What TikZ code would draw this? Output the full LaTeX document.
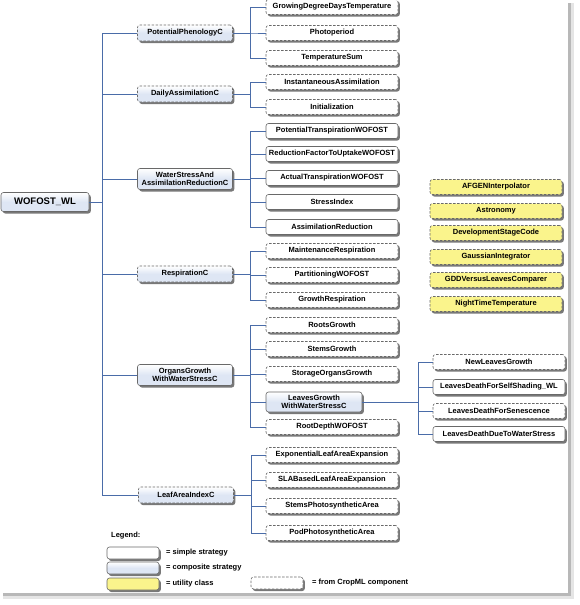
\documentclass[tikz,border=0pt]{standalone}
\usepackage{fontspec}
\setmainfont{Liberation Sans}
\usetikzlibrary{shadows}
\definecolor{linkblue}{RGB}{74,108,168}
\definecolor{compfill}{RGB}{222,230,244}
\definecolor{utilfill}{RGB}{250,244,140}
\definecolor{boxedge}{RGB}{105,105,105}

\begin{document}
\begin{tikzpicture}[x=1pt, y=-1pt,
basebox/.style={rectangle, rounded corners=2.5pt, align=center, draw=boxedge, line width=0.6pt, inner sep=0pt,
  font=\bfseries\fontsize{7.5}{8.6}\selectfont,
  drop shadow={shadow xshift=1.8pt, shadow yshift=-2pt, fill=black!70, opacity=0.75}},
simple/.style={basebox, fill=white},
composite/.style={basebox, top color=white, bottom color=compfill, middle color=compfill},
utility/.style={basebox, fill=utilfill, dashed, dash pattern=on 2.5pt off 1.5pt},
cropml/.style={dashed, dash pattern=on 2.5pt off 1.5pt},
levelone/.style={minimum width=95pt, minimum height=16pt},
leveltwo/.style={minimum width=132pt, minimum height=15pt},
legendbox/.style={basebox, minimum width=52pt, minimum height=12pt},
legendtext/.style={anchor=west, inner sep=0pt, font=\bfseries\fontsize{7.5}{8.6}\selectfont},
link/.style={draw=linkblue, line width=0.8pt},
]
%Page
\useasboundingbox (0,0) rectangle (580,605);
\fill[black!10] (3,3) rectangle (574,599);
\fill[black!28] (3,3) rectangle (571,596);
\fill[white] (0,0) rectangle (568,593);

%Root
\node[composite, minimum width=88pt, minimum height=19pt, font=\bfseries\fontsize{9.5}{11}\selectfont](WOFOST) at (45,202){WOFOST\_WL};

%Composite components
\node[composite, cropml, levelone](PotentialPhenologyC) at (185,33){PotentialPhenologyC};
\node[composite, cropml, levelone](DailyAssimilationC) at (185,94){DailyAssimilationC};
\node[composite, levelone, minimum height=21pt](WaterStressC) at (185,179){WaterStressAnd\\AssimilationReductionC};
\node[composite, cropml, levelone](RespirationC) at (185,274){RespirationC};
\node[composite, levelone, minimum height=21pt](OrgansGrowthC) at (185,375){OrgansGrowth\\WithWaterStressC};
\node[composite, cropml, levelone](LeafAreaIndexC) at (186,495){LeafAreaIndexC};

%Strategies
\node[simple, cropml, leveltwo](GrowingDegreeDaysTemperature) at (332,7){GrowingDegreeDaysTemperature};
\node[simple, cropml, leveltwo](Photoperiod) at (332,33){Photoperiod};
\node[simple, cropml, leveltwo](TemperatureSum) at (332,58){TemperatureSum};
\node[simple, cropml, leveltwo](InstantaneousAssimilation) at (332,82){InstantaneousAssimilation};
\node[simple, cropml, leveltwo](Initialization) at (332,107){Initialization};
\node[simple, leveltwo](PotentialTranspirationWOFOST) at (332,131){PotentialTranspirationWOFOST};
\node[simple, leveltwo](ReductionFactorToUptakeWOFOST) at (332,154){ReductionFactorToUptakeWOFOST};
\node[simple, leveltwo](ActualTranspirationWOFOST) at (332,178){ActualTranspirationWOFOST};
\node[simple, leveltwo](StressIndex) at (332,202){StressIndex};
\node[simple, leveltwo](AssimilationReduction) at (332,227){AssimilationReduction};
\node[simple, cropml, leveltwo](MaintenanceRespiration) at (332,251){MaintenanceRespiration};
\node[simple, cropml, leveltwo](PartitioningWOFOST) at (332,275){PartitioningWOFOST};
\node[simple, cropml, leveltwo](GrowthRespiration) at (332,300){GrowthRespiration};
\node[simple, cropml, leveltwo](RootsGrowth) at (332,325){RootsGrowth};
\node[simple, cropml, leveltwo](StemsGrowth) at (332,349){StemsGrowth};
\node[simple, cropml, leveltwo](StorageOrgansGrowth) at (332,374){StorageOrgansGrowth};
\node[composite, minimum width=96pt, minimum height=20pt](LeavesGrowthC) at (314,402){LeavesGrowth\\WithWaterStressC};
\node[simple, cropml, leveltwo](RootDepthWOFOST) at (332,427){RootDepthWOFOST};
\node[simple, cropml, leveltwo](ExponentialLeafAreaExpansion) at (332,455){ExponentialLeafAreaExpansion};
\node[simple, cropml, leveltwo](SLABasedLeafAreaExpansion) at (332,480){SLABasedLeafAreaExpansion};
\node[simple, cropml, leveltwo](StemsPhotosyntheticArea) at (332,506){StemsPhotosyntheticArea};
\node[simple, cropml, leveltwo](PodPhotosyntheticArea) at (332,533){PodPhotosyntheticArea};

%Leaves strategies
\node[simple, cropml, leveltwo](NewLeavesGrowth) at (499,362){NewLeavesGrowth};
\node[simple, leveltwo](LeavesDeathForSelfShading) at (499,387){LeavesDeathForSelfShading\_WL};
\node[simple, cropml, leveltwo](LeavesDeathForSenescence) at (499,411){LeavesDeathForSenescence};
\node[simple, leveltwo](LeavesDeathDueToWaterStress) at (499,434){LeavesDeathDueToWaterStress};

%Utility classes
\node[utility, leveltwo](AFGENInterpolator) at (496,187){AFGENInterpolator};
\node[utility, leveltwo](Astronomy) at (496,211){Astronomy};
\node[utility, leveltwo](DevelopmentStageCode) at (496,233){DevelopmentStageCode};
\node[utility, leveltwo](GaussianIntegrator) at (496,257){GaussianIntegrator};
\node[utility, leveltwo](GDDVersusLeavesComparer) at (496,280){GDDVersusLeavesComparer};
\node[utility, leveltwo](NightTimeTemperature) at (496,304){NightTimeTemperature};

%Legend
\node[legendtext](Legend) at (111,536){Legend:};
\node[legendbox, fill=white](SimpleKey) at (133,553){};
\node[legendbox, top color=white, bottom color=compfill, middle color=compfill](CompositeKey) at (133,568){};
\node[legendbox, fill=utilfill](UtilityKey) at (133,584){};
\node[legendbox, fill=white, cropml](CropMLKey) at (277,583){};
\node[legendtext](SimpleText) at (166,553){= simple strategy};
\node[legendtext](CompositeText) at (166,568){= composite strategy};
\node[legendtext](UtilityText) at (166,584){= utility class};
\node[legendtext](CropMLText) at (312,583){= from CropML component};

%Lines
\draw[link] (WOFOST.east) -- ++(13,0) |- (PotentialPhenologyC.west);
\draw[link] (WOFOST.east) -- ++(13,0) |- (DailyAssimilationC.west);
\draw[link] (WOFOST.east) -- ++(13,0) |- (WaterStressC.west);
\draw[link] (WOFOST.east) -- ++(13,0) |- (RespirationC.west);
\draw[link] (WOFOST.east) -- ++(13,0) |- (OrgansGrowthC.west);
\draw[link] (WOFOST.east) -- ++(13,0) |- (LeafAreaIndexC.west);

\draw[link] (PotentialPhenologyC.east) -- ++(17.5,0) |- (GrowingDegreeDaysTemperature.west);
\draw[link] (PotentialPhenologyC.east) -- ++(17.5,0) |- (Photoperiod.west);
\draw[link] (PotentialPhenologyC.east) -- ++(17.5,0) |- (TemperatureSum.west);
\draw[link] (DailyAssimilationC.east) -- ++(17.5,0) |- (InstantaneousAssimilation.west);
\draw[link] (DailyAssimilationC.east) -- ++(17.5,0) |- (Initialization.west);
\draw[link] (WaterStressC.east) -- ++(17.5,0) |- (PotentialTranspirationWOFOST.west);
\draw[link] (WaterStressC.east) -- ++(17.5,0) |- (ReductionFactorToUptakeWOFOST.west);
\draw[link] (WaterStressC.east) -- ++(17.5,0) |- (ActualTranspirationWOFOST.west);
\draw[link] (WaterStressC.east) -- ++(17.5,0) |- (StressIndex.west);
\draw[link] (WaterStressC.east) -- ++(17.5,0) |- (AssimilationReduction.west);
\draw[link] (RespirationC.east) -- ++(17.5,0) |- (MaintenanceRespiration.west);
\draw[link] (RespirationC.east) -- ++(17.5,0) |- (PartitioningWOFOST.west);
\draw[link] (RespirationC.east) -- ++(17.5,0) |- (GrowthRespiration.west);
\draw[link] (OrgansGrowthC.east) -- ++(17.5,0) |- (RootsGrowth.west);
\draw[link] (OrgansGrowthC.east) -- ++(17.5,0) |- (StemsGrowth.west);
\draw[link] (OrgansGrowthC.east) -- ++(17.5,0) |- (StorageOrgansGrowth.west);
\draw[link] (OrgansGrowthC.east) -- ++(17.5,0) |- (LeavesGrowthC.west);
\draw[link] (OrgansGrowthC.east) -- ++(17.5,0) |- (RootDepthWOFOST.west);
\draw[link] (LeafAreaIndexC.east) -- ++(17.5,0) |- (ExponentialLeafAreaExpansion.west);
\draw[link] (LeafAreaIndexC.east) -- ++(17.5,0) |- (SLABasedLeafAreaExpansion.west);
\draw[link] (LeafAreaIndexC.east) -- ++(17.5,0) |- (StemsPhotosyntheticArea.west);
\draw[link] (LeafAreaIndexC.east) -- ++(17.5,0) |- (PodPhotosyntheticArea.west);

\draw[link] (LeavesGrowthC.east) -- ++(56,0) |- (NewLeavesGrowth.west);
\draw[link] (LeavesGrowthC.east) -- ++(56,0) |- (LeavesDeathForSelfShading.west);
\draw[link] (LeavesGrowthC.east) -- ++(56,0) |- (LeavesDeathForSenescence.west);
\draw[link] (LeavesGrowthC.east) -- ++(56,0) |- (LeavesDeathDueToWaterStress.west);
\end{tikzpicture}
\end{document}
